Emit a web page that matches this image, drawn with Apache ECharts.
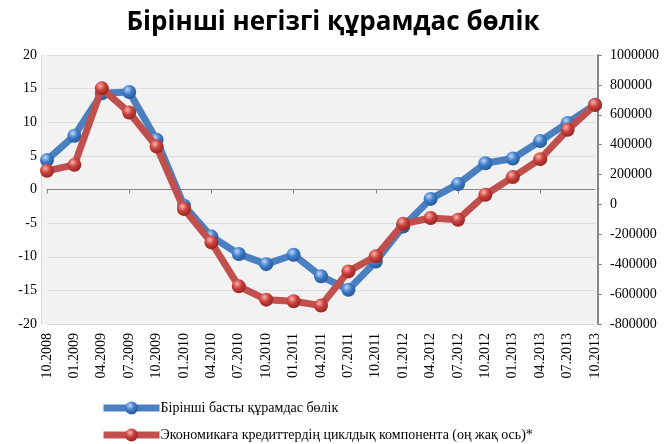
<!DOCTYPE html>
<html>
<head>
<meta charset="utf-8">
<script src="https://cdn.jsdelivr.net/npm/echarts@6/dist/echarts.min.js"></script>
<style>
  html, body { margin: 0; padding: 0; background: #fff; }
  #chart { width: 666px; height: 444px; }
</style>
</head>
<body>
<div id="chart"></div>
<script>
// quarterly dates
const categories = [
  '10.2008', '01.2009', '04.2009', '07.2009', '10.2009', '01.2010', '04.2010',
  '07.2010', '10.2010', '01.2011', '04.2011', '07.2011', '10.2011', '01.2012',
  '04.2012', '07.2012', '10.2012', '01.2013', '04.2013', '07.2013', '10.2013'
];

// left axis
const firstComponent = [
  4.4, 8.0, 14.3, 14.5, 7.4, -2.4, -7.0, -9.6, -11.1, -9.7, -12.9,
  -14.9, -10.7, -5.5, -1.4, 0.8, 3.9, 4.6, 7.2, 9.9, 12.6
];

// right axis
const creditCycle = [
  225000, 265000, 777000, 615000, 387000, -31000, -254000, -548000, -637000,
  -648000, -677000, -448000, -347000, -129000, -91000, -102000, 65000,
  183000, 303000, 499000, 666000
];

const seriesNames = [
  'Бірінші басты құрамдас бөлік',
  'Экономикаға кредиттердің циклдық компонента (оң жақ ось)*'
];

const serif = '"Liberation Serif", "DejaVu Serif", serif';

const sphere = (light, mid, dark) => ({
  type: 'radial', x: 0.38, y: 0.32, r: 0.75,
  colorStops: [
    { offset: 0, color: light },
    { offset: 0.45, color: mid },
    { offset: 1, color: dark }
  ]
});

const legendItem = (name, top) => ({
  left: 95,
  top: top,
  itemWidth: 56,
  itemHeight: 16,
  lineStyle: { width: 7 },
  textStyle: { fontFamily: serif, fontSize: 14, color: '#000', padding: [0, 0, 0, -4] },
  data: [name]
});

const chart = echarts.init(document.getElementById('chart'));

chart.setOption({
  animation: false,
  backgroundColor: '#fff',
  title: {
    text: 'Бірінші негізгі құрамдас бөлік',
    left: 'center',
    top: 5,
    textStyle: {
      fontFamily: '"Open Sans", "Noto Sans", sans-serif',
      fontWeight: 'bold',
      fontSize: 26,
      color: '#000'
    }
  },
  graphic: [
    {
      type: 'rect',
      z: -10,
      shape: { x: 41, y: 55, width: 557, height: 269 },
      style: { fill: '#f2f2f2' }
    }
  ],
  legend: [
    legendItem(seriesNames[0], 396),
    legendItem(seriesNames[1], 423)
  ],
  grid: { left: 47, right: 71, top: 55, bottom: 120, containLabel: false },
  xAxis: [
    {
      type: 'category',
      data: categories,
      boundaryGap: false,
      axisLine: { onZero: true, lineStyle: { color: '#868686', width: 1 } },
      axisTick: { show: true, length: 4, lineStyle: { color: '#868686' } },
      axisLabel: { show: false },
      splitLine: { show: false }
    },
    {
      type: 'category',
      data: categories,
      position: 'bottom',
      boundaryGap: false,
      axisLine: { show: false, onZero: false },
      axisTick: { show: false },
      axisLabel: {
        rotate: 90,
        margin: 9,
        interval: 0,
        fontFamily: serif,
        fontSize: 14,
        color: '#000'
      },
      splitLine: { show: false }
    }
  ],
  yAxis: [
    {
      type: 'value',
      min: -20,
      max: 20,
      interval: 5,
      offset: 6,
      axisLine: { show: true, lineStyle: { color: '#d9d9d9' } },
      axisTick: { show: false },
      axisLabel: { margin: 4, fontFamily: serif, fontSize: 14, color: '#000' },
      splitLine: { show: true, lineStyle: { color: '#dcdcdc', width: 1 } }
    },
    {
      type: 'value',
      position: 'right',
      min: -800000,
      max: 1000000,
      interval: 200000,
      offset: 3,
      axisLine: { show: true, lineStyle: { color: '#868686', width: 2 } },
      axisTick: { show: true, length: 4, lineStyle: { color: '#868686' } },
      axisLabel: {
        margin: 12,
        fontFamily: serif,
        fontSize: 14,
        color: '#000',
        formatter: v => String(v)
      },
      splitLine: { show: false }
    }
  ],
  series: [
    {
      name: seriesNames[0],
      type: 'line',
      xAxisIndex: 0,
      yAxisIndex: 0,
      data: firstComponent,
      symbol: 'circle',
      symbolSize: 14,
      lineStyle: { color: '#4a7fc0', width: 7 },
      itemStyle: { color: sphere('#bcd6f5', '#3d7dcc', '#24528c') },
      z: 2
    },
    {
      name: seriesNames[1],
      type: 'line',
      xAxisIndex: 0,
      yAxisIndex: 1,
      data: creditCycle,
      symbol: 'circle',
      symbolSize: 14,
      lineStyle: { color: '#c0504d', width: 7 },
      itemStyle: { color: sphere('#f5b4b0', '#cc3f3a', '#8a2220') },
      z: 3
    }
  ]
});
</script>
</body>
</html>
